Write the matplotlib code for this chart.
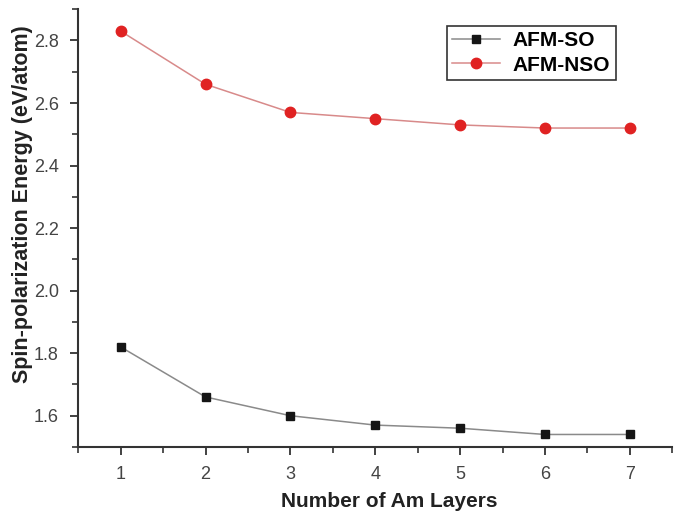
import matplotlib
matplotlib.use("Agg")
from matplotlib import pyplot as plt
from matplotlib.ticker import MultipleLocator

layers = [1, 2, 3, 4, 5, 6, 7]
afm_so = [1.82, 1.66, 1.60, 1.57, 1.56, 1.54, 1.54]
afm_nso = [2.83, 2.66, 2.57, 2.55, 2.53, 2.52, 2.52]

plt.rcParams['font.family'] = ['Liberation Sans', 'DejaVu Sans']

fig = plt.figure(figsize=(6.86, 5.12), dpi=100)
ax = fig.add_axes([0.114, 0.127, 0.866, 0.855])

ax.plot(layers, afm_so, color='#8a8a8a', lw=1.1, marker='s', ms=6,
        mfc='#151515', mec='#151515', label='AFM-SO')
ax.plot(layers, afm_nso, color='#d88a8a', lw=1.1, marker='o', ms=7.5,
        mfc='#e02222', mec='#e02222', label='AFM-NSO')

ax.set_xlim(0.5, 7.5)
ax.set_ylim(1.5, 2.9)
ax.xaxis.set_major_locator(MultipleLocator(1))
ax.xaxis.set_minor_locator(MultipleLocator(0.5))
ax.yaxis.set_major_locator(MultipleLocator(0.2))
ax.yaxis.set_minor_locator(MultipleLocator(0.1))

for s in ['top', 'right']:
    ax.spines[s].set_visible(False)
for s in ['left', 'bottom']:
    ax.spines[s].set_linewidth(1.5)
    ax.spines[s].set_color('#333333')

ax.tick_params(which='major', direction='out', length=6, width=1.3,
               labelsize=13, colors='#333333', pad=8)
ax.tick_params(which='minor', direction='out', length=4, width=1.2, colors='#333333')
for lab in ax.get_xticklabels() + ax.get_yticklabels():
    lab.set_color('#444444')

ax.set_xlabel('Number of Am Layers', fontsize=15, fontweight='bold', color='#222222')
ax.xaxis.set_label_coords(0.524, -0.103)
ax.set_ylabel('Spin-polarization Energy (eV/atom)', fontsize=15.5, fontweight='bold', color='#222222')
ax.yaxis.set_label_coords(-0.076, 0.555)

leg = ax.legend(loc='upper right', bbox_to_anchor=(0.922, 0.985),
                prop={'weight': 'bold', 'size': 15}, fancybox=False,
                edgecolor='#333333', framealpha=1, handlelength=2.3,
                borderpad=0.25, labelspacing=0.25, handletextpad=0.6)
leg.get_frame().set_linewidth(1.2)

fig.savefig('out.png', dpi=100)
